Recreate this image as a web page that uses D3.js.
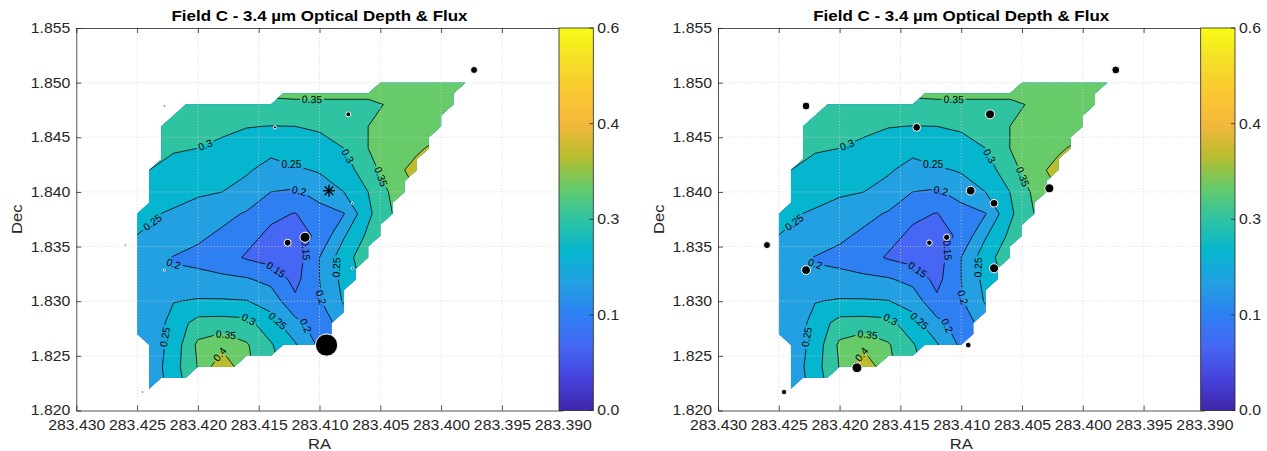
<!DOCTYPE html>
<html>
<head>
<meta charset="utf-8">
<script src="https://cdn.jsdelivr.net/npm/d3@7/dist/d3.min.js"></script>
<style>
  body { margin: 0; background: #fff; }
  text { font-family: "Liberation Sans", Arial, Helvetica, sans-serif; }
</style>
</head>
<body>
<div class="canvas"></div>
<script>
// optical depth, on a 0.002 deg grid (rows: Dec 1.850 -> 1.822)
const gridRA = [283.426, 283.424, 283.422, 283.420, 283.418, 283.416, 283.414, 283.412,
                283.410, 283.408, 283.406, 283.404, 283.402, 283.400, 283.398];
const gridDec = [1.850, 1.848, 1.846, 1.844, 1.842, 1.840, 1.838, 1.836,
                 1.834, 1.832, 1.830, 1.828, 1.826, 1.824, 1.822];
const tauGrid = [
  [0.34, 0.34, 0.345, 0.35, 0.355, 0.36, 0.366, 0.366, 0.366, 0.366, 0.366, 0.37, 0.375, 0.378, 0.38],
  [0.33, 0.33, 0.33, 0.335, 0.335, 0.338, 0.343, 0.345, 0.345, 0.345, 0.345, 0.353, 0.363, 0.37, 0.375],
  [0.32, 0.32, 0.32, 0.315, 0.31, 0.302, 0.299, 0.30, 0.31, 0.325, 0.35, 0.365, 0.375, 0.38, 0.385],
  [0.31, 0.31, 0.303, 0.30, 0.29, 0.275, 0.262, 0.285, 0.272, 0.30, 0.35, 0.375, 0.39, 0.42, 0.42],
  [0.30, 0.30, 0.29, 0.28, 0.27, 0.255, 0.235, 0.242, 0.255, 0.275, 0.33, 0.38, 0.42, 0.42, 0.42],
  [0.29, 0.28, 0.27, 0.255, 0.25, 0.235, 0.20, 0.193, 0.22, 0.25, 0.30, 0.36, 0.40, 0.42, 0.42],
  [0.262, 0.256, 0.243, 0.235, 0.215, 0.195, 0.16, 0.148, 0.18, 0.198, 0.29, 0.35, 0.38, 0.40, 0.40],
  [0.254, 0.245, 0.228, 0.21, 0.19, 0.165, 0.14, 0.13, 0.16, 0.245, 0.31, 0.345, 0.36, 0.38, 0.38],
  [0.225, 0.22, 0.198, 0.185, 0.17, 0.145, 0.13, 0.125, 0.20, 0.28, 0.33, 0.34, 0.35, 0.36, 0.36],
  [0.23, 0.225, 0.205, 0.215, 0.21, 0.205, 0.185, 0.135, 0.20, 0.265, 0.32, 0.33, 0.34, 0.35, 0.35],
  [0.23, 0.23, 0.248, 0.255, 0.255, 0.252, 0.23, 0.16, 0.195, 0.255, 0.30, 0.32, 0.33, 0.34, 0.34],
  [0.22, 0.21, 0.272, 0.318, 0.32, 0.315, 0.27, 0.215, 0.175, 0.22, 0.28, 0.30, 0.30, 0.30, 0.30],
  [0.21, 0.215, 0.27, 0.36, 0.385, 0.355, 0.305, 0.255, 0.19, 0.21, 0.25, 0.28, 0.28, 0.28, 0.28],
  [0.21, 0.215, 0.28, 0.352, 0.44, 0.36, 0.32, 0.26, 0.20, 0.20, 0.22, 0.25, 0.25, 0.25, 0.25],
  [0.21, 0.215, 0.27, 0.34, 0.42, 0.38, 0.32, 0.26, 0.20, 0.20, 0.22, 0.25, 0.25, 0.25, 0.25]
];
// edge of the valid (non-NaN) area
const maskOutline = [
  [283.423, 1.846], [283.422, 1.847], [283.421, 1.848], [283.414, 1.848], [283.413, 1.849],
  [283.406, 1.849], [283.405, 1.850], [283.398, 1.850], [283.399, 1.849], [283.399, 1.848],
  [283.400, 1.847], [283.400, 1.846], [283.401, 1.845], [283.401, 1.844], [283.402, 1.843],
  [283.402, 1.842], [283.403, 1.841], [283.403, 1.840], [283.404, 1.839], [283.404, 1.838],
  [283.405, 1.837], [283.405, 1.836], [283.406, 1.835], [283.406, 1.834], [283.407, 1.833],
  [283.407, 1.832], [283.408, 1.831], [283.408, 1.830], [283.408, 1.829], [283.409, 1.828],
  [283.409, 1.827], [283.410, 1.826], [283.413, 1.826], [283.414, 1.825], [283.416, 1.825],
  [283.417, 1.824], [283.420, 1.824], [283.421, 1.823], [283.423, 1.823], [283.424, 1.822],
  [283.424, 1.826], [283.425, 1.827], [283.425, 1.838], [283.424, 1.839], [283.424, 1.842],
  [283.423, 1.843]
];
const levels = [0.10, 0.15, 0.20, 0.25, 0.30, 0.35, 0.40, 0.45];
const lineLevels = [0.15, 0.20, 0.25, 0.30, 0.35, 0.40];

// sources
const starRA = [283.42276, 283.39729, 283.42457, 283.42597, 283.41366, 283.40763, 283.40275, 283.40922,
                283.40730, 283.42276, 283.41262, 283.41119, 283.40730, 283.40942, 283.41857];
const starDec = [1.84786, 1.85116, 1.82169, 1.83514, 1.84591, 1.84710, 1.84033, 1.84011,
                 1.83896, 1.83285, 1.83535, 1.83585, 1.83301, 1.82599, 1.82391];
const fluxLeft = [0.10, 1.2, 0.10, 0.10, 0.25, 0.6, null, null, 0.12, 0.12, 1.2, 2.5, 0.12, 12, null];
const symbolLeft = ['o', 'o', 'o', 'o', 'o', 'o', 'o', '*', 'o', 'o', 'o', 'o', 'o', 'o', 'o'];
const fluxRight = [1.5, 1.5, 0.7, 1.2, 1.5, 2.0, 2.0, 1.9, 1.5, 1.9, 0.75, 1.0, 2.0, 0.8, 2.4];
const symbolRight = ['o', 'o', 'o', 'o', 'o', 'o', 'o', 'o', 'o', 'o', 'o', 'o', 'o', 'o', 'o'];

// contour label anchors (level, RA, Dec)
const labelSpots = [
  [0.35, 283.41062, 1.8485], [0.30, 283.41958, 1.84475], [0.30, 283.40782, 1.8432],
  [0.35, 283.40519, 1.84127], [0.25, 283.41226, 1.84265], [0.20, 283.41185, 1.83972],
  [0.25, 283.42369, 1.83716], [0.20, 283.42229, 1.83285], [0.15, 283.41119, 1.83469],
  [0.15, 283.41341, 1.83313], [0.25, 283.40889, 1.83304], [0.20, 283.40971, 1.83038],
  [0.25, 283.42262, 1.82672], [0.30, 283.41596, 1.8281], [0.25, 283.41366, 1.8280],
  [0.20, 283.41136, 1.82764], [0.35, 283.41777, 1.82672], [0.40, 283.41835, 1.82526]
];

const xTicks = [283.430, 283.425, 283.420, 283.415, 283.410, 283.405, 283.400, 283.395, 283.390];
const yTicks = [1.820, 1.825, 1.830, 1.835, 1.840, 1.845, 1.850, 1.855];
const cbTicks = [0, 0.15, 0.30, 0.45, 0.60];
const cbTickLabels = ['0.0', '0.1', '0.3', '0.4', '0.6'];

// parula-like colour map, sampled off the colour bar
const cmapValues = [0, 0.05, 0.10, 0.15, 0.20, 0.25, 0.30, 0.35, 0.40, 0.45, 0.50, 0.55, 0.60];
const cmapColors = ['#3e26a8', '#4742dd', '#4567f4', '#2e80f2', '#22a0e2', '#06b6cf', '#2fc3a2',
                    '#66cb68', '#bbbd2e', '#f5b83c', '#fbc832', '#f4df26', '#f9fb15'];

const title = 'Field C - 3.4 \u00b5m Optical Depth & Flux';

const svg = d3.select('.canvas')
    .append('svg')
    .attr('width', 1267)
    .attr('height', 451);

const frame = { left: 76.3, right: 562.7, top: 28, bottom: 410.5 };
const bar = { left: 559, width: 34.3 };
const panelShift = [0, 641.7];
const ink = '#262626';
const sx = 1.13;   // the original's axis text is set a little wide

const color = d3.scaleLinear().domain(cmapValues).range(cmapColors);
const nx = gridRA.length, ny = gridDec.length;
const bands = d3.contours().size([nx, ny]).thresholds(levels)(tauGrid.flat());
const radius = d3.scaleSqrt().domain([0, 12]).range([0, 11.1]);

function addText(g, x, y, str, size, opts = {}) {
    const stretch = opts.stretch || sx;
    return g.append('text')
        .attr('transform', `translate(${x},${y}) rotate(${opts.rotate || 0}) scale(${stretch},1)`)
        .attr('text-anchor', opts.anchor || 'middle')
        .attr('dy', opts.dy || 0)
        .attr('font-size', size)
        .attr('font-weight', opts.bold ? 'bold' : null)
        .attr('fill', opts.fill || ink)
        .text(str);
}

function drawPanel(k, flux, symbols) {
    const g = svg.append('g').attr('transform', `translate(${panelShift[k]},0)`);
    const defs = g.append('defs');

    const x = d3.scaleLinear().domain([xTicks[0], xTicks[xTicks.length - 1]]).range([frame.left, frame.right]);
    const y = d3.scaleLinear().domain([yTicks[0], yTicks[yTicks.length - 1]]).range([frame.bottom, frame.top]);
    const u2ra = d3.scaleLinear().domain([0.5, nx - 0.5]).range([gridRA[0], gridRA[nx - 1]]);
    const v2dec = d3.scaleLinear().domain([0.5, ny - 0.5]).range([gridDec[0], gridDec[ny - 1]]);
    const toPx = ([u, v]) => [x(u2ra(u)), y(v2dec(v))];
    const path = d3.geoPath(d3.geoTransform({
        point(u, v) { const p = toPx([u, v]); this.stream.point(p[0], p[1]); }
    }));

    defs.append('clipPath').attr('id', `mapClip${k}`)
        .append('path')
        .attr('d', d3.line()(maskOutline.map(d => [x(d[0]), y(d[1])])) + 'Z');

    const mask = defs.append('mask').attr('id', `labelMask${k}`)
        .attr('maskUnits', 'userSpaceOnUse')
        .attr('x', 0).attr('y', 0).attr('width', 650).attr('height', 451);
    mask.append('rect').attr('width', 650).attr('height', 451).attr('fill', '#fff');

    const map = g.append('g').attr('clip-path', `url(#mapClip${k})`);
    map.selectAll('path.band')
        .data(bands)
        .join('path')
        .attr('class', 'band')
        .attr('d', path)
        .attr('fill', d => color(d.value))
        .attr('fill-rule', 'evenodd');

    map.append('g')
        .attr('mask', `url(#labelMask${k})`)
        .selectAll('path')
        .data(bands.filter(b => lineLevels.includes(b.value)))
        .join('path')
        .attr('d', path)
        .attr('fill', 'none')
        .attr('stroke', '#000')
        .attr('stroke-width', 0.8);

    // grid
    const grid = g.append('g')
        .attr('stroke', '#d2d2d2')
        .attr('stroke-width', 0.8)
        .attr('stroke-dasharray', '1,2.2');
    grid.selectAll('line.gx').data(xTicks.slice(1, -1)).join('line')
        .attr('class', 'gx')
        .attr('x1', d => x(d)).attr('x2', d => x(d))
        .attr('y1', frame.top).attr('y2', frame.bottom);
    grid.selectAll('line.gy').data(yTicks.slice(1, -1)).join('line')
        .attr('class', 'gy')
        .attr('y1', d => y(d)).attr('y2', d => y(d))
        .attr('x1', frame.left).attr('x2', frame.right);

    // contour labels
    const labels = g.append('g');
    labelSpots.forEach(([lev, ra, dec]) => {
        const band = bands.find(b => b.value === lev);
        const h = [x(ra), y(dec)];
        let best = null;
        band.coordinates.forEach(poly => poly.forEach(ring => {
            const pts = ring.map(toPx);
            for (let i = 0; i < ring.length - 1; i++) {
                const onEdge = (ring[i][0] === 0 || ring[i][0] === nx || ring[i][1] === 0 || ring[i][1] === ny);
                if (onEdge) continue;
                const a = pts[i], c = pts[i + 1];
                const dx = c[0] - a[0], dy = c[1] - a[1], l2 = dx * dx + dy * dy;
                if (!l2) continue;
                const t = Math.max(0, Math.min(1, ((h[0] - a[0]) * dx + (h[1] - a[1]) * dy) / l2));
                const p = [a[0] + t * dx, a[1] + t * dy];
                const d2 = (p[0] - h[0]) ** 2 + (p[1] - h[1]) ** 2;
                if (!best || d2 < best.d2) best = { d2, p, pts, i };
            }
        }));
        if (!best) return;
        const { p, pts, i } = best;
        const a = pts[Math.max(0, i - 1)], c = pts[Math.min(pts.length - 1, i + 2)];
        let ang = Math.atan2(c[1] - a[1], c[0] - a[0]) * 180 / Math.PI;
        if (ang > 90) ang -= 180;
        if (ang <= -90) ang += 180;
        const txt = addText(labels, p[0], p[1], String(lev), 10.3,
            { rotate: ang, dy: '0.36em', fill: '#000', stretch: 1 });
        const w = txt.node().getComputedTextLength() + 4;
        mask.append('rect')
            .attr('x', -w / 2).attr('y', -5.5)
            .attr('width', w).attr('height', 11)
            .attr('transform', `translate(${p[0]},${p[1]}) rotate(${ang})`)
            .attr('fill', '#000');
    });

    // sources
    const stars = starRA.map((ra, i) => ({ ra, dec: starDec[i], f: flux[i], s: symbols[i] }));
    g.append('g').selectAll('circle')
        .data(stars.filter(d => d.s === 'o' && d.f != null))
        .join('circle')
        .attr('cx', d => x(d.ra))
        .attr('cy', d => y(d.dec))
        .attr('r', d => radius(d.f))
        .attr('fill', '#000')
        .attr('stroke', '#fff')
        .attr('stroke-width', 1);
    const ast = g.append('g').attr('stroke', '#000').attr('stroke-width', 1.3);
    stars.filter(d => d.s === '*').forEach(d => {
        const cx = x(d.ra), cy = y(d.dec), r = 6;
        [[r, 0], [0, r], [r * 0.7, r * 0.7], [r * 0.7, -r * 0.7]].forEach(([ux, uy]) => {
            ast.append('line')
                .attr('x1', cx - ux).attr('y1', cy - uy)
                .attr('x2', cx + ux).attr('y2', cy + uy);
        });
    });

    // axes
    const fmt = d3.format('.3f');
    const styleAxis = sel => {
        sel.attr('font-family', null).attr('font-size', null);
        sel.select('.domain').attr('stroke', ink).attr('stroke-width', 0.8);
        sel.selectAll('.tick line').attr('stroke', ink).attr('stroke-width', 0.8);
        sel.selectAll('.tick text').attr('fill', ink).style('font-size', '14px');
    };
    g.append('g').attr('transform', `translate(0,${frame.bottom})`)
        .call(d3.axisBottom(x).tickValues(xTicks).tickFormat(fmt).tickSizeInner(-5).tickSizeOuter(0).tickPadding(10))
        .call(styleAxis)
        .selectAll('.tick text').attr('transform', `scale(${sx},1)`);
    g.append('g').attr('transform', `translate(0,${frame.top})`)
        .call(d3.axisTop(x).tickValues(xTicks).tickFormat('').tickSizeInner(-5).tickSizeOuter(0))
        .call(styleAxis);
    g.append('g').attr('transform', `translate(${frame.left},0)`)
        .call(d3.axisLeft(y).tickValues(yTicks).tickFormat(fmt).tickSizeInner(-5).tickSizeOuter(0).tickPadding(6))
        .call(styleAxis)
        .selectAll('.tick text').attr('x', -6 / sx).attr('transform', `scale(${sx},1)`);

    const cx0 = (frame.left + frame.right) / 2;
    addText(g, cx0, 20.7, title, 15, { bold: true, fill: '#000' });
    addText(g, cx0, 449, 'RA', 14.7);
    addText(g, 22, (frame.top + frame.bottom) / 2, 'Dec', 14.7, { rotate: -90 });

    // colour bar
    const cbY = d3.scaleLinear().domain([cbTicks[0], cbTicks[cbTicks.length - 1]]).range([frame.bottom, frame.top]);
    const grad = defs.append('linearGradient').attr('id', `cbGrad${k}`)
        .attr('x1', 0).attr('y1', 1).attr('x2', 0).attr('y2', 0);
    grad.selectAll('stop').data(cmapValues).join('stop')
        .attr('offset', d => d / 0.6)
        .attr('stop-color', d => color(d));
    g.append('rect')
        .attr('x', bar.left).attr('y', frame.top)
        .attr('width', bar.width).attr('height', frame.bottom - frame.top)
        .attr('fill', `url(#cbGrad${k})`)
        .attr('stroke', ink).attr('stroke-width', 0.8);
    const cb = g.append('g');
    cb.selectAll('line').data(cbTicks).join('line')
        .attr('x1', bar.left + bar.width - 4).attr('x2', bar.left + bar.width)
        .attr('y1', d => cbY(d)).attr('y2', d => cbY(d))
        .attr('stroke', ink).attr('stroke-width', 0.8);
    cbTicks.forEach((v, i) => {
        addText(cb, bar.left + bar.width + 4, cbY(v), cbTickLabels[i], 14, { anchor: 'start', dy: '0.35em' });
    });
}

drawPanel(0, fluxLeft, symbolLeft);
drawPanel(1, fluxRight, symbolRight);
</script>
</body>
</html>
